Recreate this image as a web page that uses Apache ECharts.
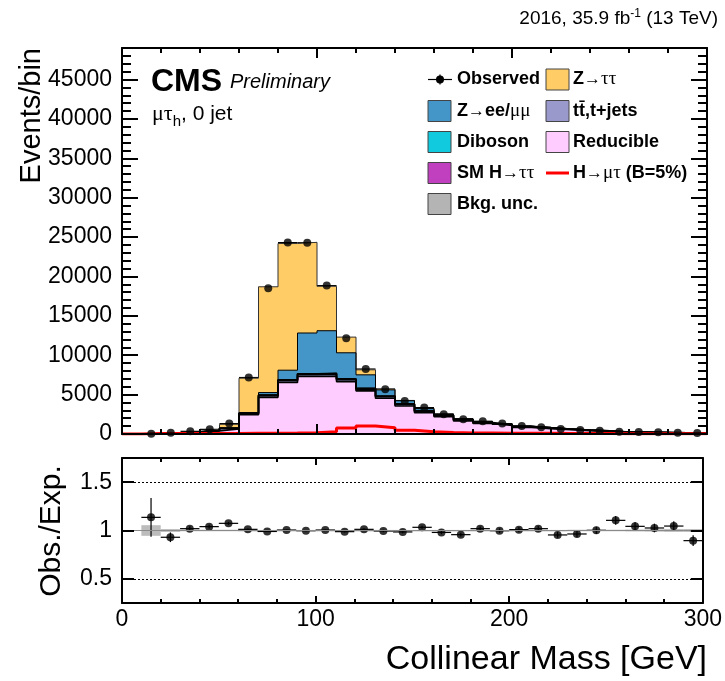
<!DOCTYPE html>
<html>
<head>
<meta charset="utf-8">
<script src="https://cdn.jsdelivr.net/npm/echarts@6/dist/echarts.min.js"></script>
<style>
  html, body { margin: 0; padding: 0; background: #ffffff; }
  #chart { width: 725px; height: 681px; }
</style>
</head>
<body>
<div id="chart"></div>
<script>
// Bin edges of the collinear mass histogram [GeV]
const massEdges = [0, 10, 20, 30, 40, 50, 60, 70, 80, 90, 100, 110, 120, 130, 140, 150,
  160, 170, 180, 190, 200, 210, 220, 230, 240, 250, 260, 270, 280, 290, 300];

// Observed events per bin
const observed = [null, 25, 170, 340, 590, 1320, 7170, 18500, 24300, 24280, 18840, 12150, 8250,
  5690, 4200, 3350, 2500, 1870, 1620, 1320, 1020, 850, 640, 510, 420, 300, 250, 210, 170, 130];

// Background contributions (stacked bottom to top)
const reducible = [0, 15, 140, 240, 400, 650, 2450, 4650, 6530, 7300, 7340, 6650, 5480, 4540,
  3560, 2700, 2200, 1660, 1340, 1100, 820, 670, 530, 410, 320, 190, 170, 145, 112, 100];
const ttbar = [0, 2, 10, 18, 30, 55, 120, 200, 230, 230, 240, 230, 210, 190, 180, 160, 140, 120,
  110, 100, 90, 80, 70, 62, 55, 45, 40, 34, 30, 26];
const diboson = [0, 1, 5, 8, 12, 20, 60, 80, 90, 90, 90, 90, 80, 70, 70, 60, 55, 50, 45, 40, 35,
  30, 27, 24, 20, 17, 15, 13, 11, 10];
const smHtautau = [0, 0, 0, 0, 1, 2, 10, 15, 20, 30, 30, 25, 20, 15, 10, 10, 5, 5, 5, 3, 2, 2, 1,
  1, 0, 0, 0, 0, 0, 0];
const zll = [0, 2, 10, 20, 30, 60, 80, 315, 1230, 5170, 5410, 3315, 1720, 785, 400, 290, 130,
  100, 80, 70, 58, 48, 40, 30, 23, 18, 14, 12, 9, 8];
const ztautau = [0, 2, 18, 47, 94, 442, 4365, 13430, 16080, 11510, 5640, 1990, 640, 120, 40, 20,
  20, 15, 10, 7, 5, 4, 2, 2, 1, 1, 1, 1, 1, 1];

// LFV signal H->mu tau, B = 5% (drawn unstacked)
const signal = [0, 60, 60, 60, 60, 60, 80, 100, 120, 150, 300, 750, 1030, 800, 480, 280, 180,
  140, 120, 100, 90, 80, 70, 60, 50, 40, 40, 30, 30, 30];

// Ratio panel: observed / expected with its uncertainty, and background uncertainty band
const ratio = [null, 1.136, 0.93, 1.019, 1.04, 1.074, 1.012, 0.99, 1.005, 0.998, 1.005, 0.988,
  1.012, 0.995, 0.985, 1.033, 0.98, 0.957, 1.019, 0.998, 1.009, 1.019, 0.954, 0.964, 1.002,
  1.105, 1.043, 1.026, 1.046, 0.895];
const ratioErr = [null, 0.2, 0.05, 0.025, 0.02, 0.015, 0.008, 0.005, 0.005, 0.005, 0.005, 0.008,
  0.01, 0.012, 0.014, 0.016, 0.018, 0.02, 0.022, 0.024, 0.026, 0.028, 0.03, 0.034, 0.038, 0.045,
  0.045, 0.045, 0.05, 0.055];
const bkgUnc = [null, 0.055, 0.015, 0.008, 0.008, 0.008, 0.006, 0.006, 0.006, 0.006, 0.006,
  0.006, 0.006, 0.006, 0.006, 0.006, 0.006, 0.006, 0.006, 0.006, 0.006, 0.006, 0.006, 0.008,
  0.008, 0.008, 0.01, 0.012, 0.015, 0.015];

// Axis tick values
const mainYMax = 49000;
const mainYStep = 5000;
const ratioTicks = [0.5, 1, 1.5];
const ratioRange = [0.25, 1.75];
const massTicks = [0, 100, 200, 300];

const FONT = 'Liberation Sans, Arial, Helvetica, sans-serif';
const GREEK = 'Liberation Serif, Times New Roman, serif';

// Turn per-bin contents into a step outline usable by a line series
function stepPoints(vals) {
  const pts = [];
  let first = -1, last = -1;
  vals.forEach((v, i) => {
    if (v == null) return;
    if (first < 0) { first = i; pts.push([massEdges[i], 0]); }
    pts.push([massEdges[i], v], [massEdges[i + 1], v]);
    last = i;
  });
  pts.push([massEdges[last + 1], 0]);
  return pts;
}

const layers = [
  { name: 'Reducible', vals: reducible, color: '#ffccff', edge: 1.6 },
  { name: 'ttbar', vals: ttbar, color: '#9999cc', edge: 1.6 },
  { name: 'Diboson', vals: diboson, color: '#12cadd', edge: 1.6 },
  { name: 'SMH', vals: smHtautau, color: '#c040c0', edge: 1.6 },
  { name: 'Zll', vals: zll, color: '#4496c8', edge: 1 },
  { name: 'Ztautau', vals: ztautau, color: '#ffcc66', edge: 1 }
];
let running = massEdges.slice(0, -1).map(() => 0);
layers.forEach(l => {
  running = running.map((v, i) => v + l.vals[i]);
  l.cum = running.slice();
});

const series = [];
// tallest cumulative first, so each lower layer paints over it
layers.slice().reverse().forEach(l => {
  series.push({
    name: l.name, type: 'line', xAxisIndex: 0, yAxisIndex: 0,
    data: stepPoints(l.cum), symbol: 'none', silent: true, animation: false,
    lineStyle: { color: l.name === 'Ztautau' ? '#333' : '#000', width: l.edge },
    areaStyle: { color: l.color, opacity: 1 }
  });
});

series.push({
  name: 'signal', type: 'line', xAxisIndex: 0, yAxisIndex: 0,
  data: stepPoints(signal), symbol: 'none', silent: true, animation: false,
  lineStyle: { color: '#ff0000', width: 3 }
});

// observed: horizontal bin-width bars and markers
const obsBars = [], obsPts = [];
observed.forEach((v, i) => {
  if (v == null) return;
  obsBars.push([massEdges[i], massEdges[i + 1], v]);
  obsPts.push([(massEdges[i] + massEdges[i + 1]) / 2, v]);
});
series.push({
  type: 'custom', xAxisIndex: 0, yAxisIndex: 0, data: obsBars, silent: true, animation: false,
  encode: { x: [0, 1], y: 2 },
  renderItem: (params, api) => {
    const a = api.coord([api.value(0), api.value(2)]);
    const b = api.coord([api.value(1), api.value(2)]);
    return { type: 'line', shape: { x1: a[0], y1: a[1], x2: b[0], y2: b[1] },
      style: { stroke: '#000', lineWidth: 1.2 } };
  }
});
series.push({
  type: 'scatter', xAxisIndex: 0, yAxisIndex: 0, data: obsPts, symbol: 'circle',
  symbolSize: 8, itemStyle: { color: '#000' }, silent: true, animation: false, z: 4
});

// ratio panel
const bandData = [], ratioBars = [], ratioPts = [];
ratio.forEach((r, i) => {
  if (r == null) return;
  const x0 = massEdges[i], x1 = massEdges[i + 1], xc = (x0 + x1) / 2;
  bandData.push([x0, x1, 1 - bkgUnc[i], 1 + bkgUnc[i]]);
  ratioBars.push([x0, x1, xc, r, r - ratioErr[i], r + ratioErr[i]]);
  ratioPts.push([xc, r]);
});
series.push({
  type: 'custom', xAxisIndex: 2, yAxisIndex: 2, data: bandData, silent: true, animation: false,
  encode: { x: [0, 1], y: [2, 3] }, clip: true,
  renderItem: (params, api) => {
    const a = api.coord([api.value(0), api.value(3)]);
    const b = api.coord([api.value(1), api.value(2)]);
    return { type: 'rect', shape: { x: a[0], y: a[1], width: b[0] - a[0], height: Math.max(b[1] - a[1], 1.5) },
      style: { fill: '#b0b0b0', opacity: 0.85 } };
  },
  markLine: {
    silent: true, symbol: 'none', label: { show: false }, animation: false,
    data: [
      { yAxis: ratioTicks[0], lineStyle: { color: '#000', width: 1, type: [2, 2] } },
      { yAxis: ratioTicks[2], lineStyle: { color: '#000', width: 1, type: [2, 2] } },
      { yAxis: ratioTicks[1], lineStyle: { color: '#8a8a8a', width: 1, type: 'solid' } }
    ]
  }
});
series.push({
  type: 'custom', xAxisIndex: 2, yAxisIndex: 2, data: ratioBars, silent: true, animation: false,
  encode: { x: [0, 1], y: [3] }, clip: true,
  renderItem: (params, api) => {
    const h0 = api.coord([api.value(0), api.value(3)]);
    const h1 = api.coord([api.value(1), api.value(3)]);
    const v0 = api.coord([api.value(2), api.value(4)]);
    const v1 = api.coord([api.value(2), api.value(5)]);
    return { type: 'group', children: [
      { type: 'line', shape: { x1: h0[0], y1: h0[1], x2: h1[0], y2: h1[1] }, style: { stroke: '#000', lineWidth: 1.2 } },
      { type: 'line', shape: { x1: v0[0], y1: v0[1], x2: v1[0], y2: v1[1] }, style: { stroke: '#000', lineWidth: 1.2 } }
    ] };
  }
});
series.push({
  type: 'scatter', xAxisIndex: 2, yAxisIndex: 2, data: ratioPts, symbol: 'circle',
  symbolSize: 8, itemStyle: { color: '#000' }, silent: true, animation: false, z: 4
});

function xAxisDef(grid, pos, labels, major, minor) {
  return {
    type: 'value', gridIndex: grid, position: pos, min: massTicks[0], max: massTicks[massTicks.length - 1],
    interval: massTicks[1] - massTicks[0], z: 10,
    axisLine: { show: true, onZero: false, lineStyle: { color: '#000', width: 2 } },
    axisTick: { show: true, inside: true, length: major, lineStyle: { color: '#000', width: 2 } },
    minorTick: { show: true, splitNumber: 5, length: minor, lineStyle: { color: '#000', width: 2 } },
    splitLine: { show: false }, minorSplitLine: { show: false },
    axisLabel: { show: labels, margin: 5, fontFamily: FONT, fontSize: 23, color: '#000',
      formatter: v => String(v) }
  };
}
function mainYDef(pos, labels) {
  return {
    type: 'value', gridIndex: 0, position: pos, min: 0, max: mainYMax, interval: mainYStep, z: 10,
    axisLine: { show: true, onZero: false, lineStyle: { color: '#000', width: 2 } },
    axisTick: { show: true, inside: true, length: 16, lineStyle: { color: '#000', width: 2 } },
    minorTick: { show: true, splitNumber: 5, length: 9, lineStyle: { color: '#000', width: 2 } },
    splitLine: { show: false },
    axisLabel: { show: labels, margin: 10, fontFamily: FONT, fontSize: 23, color: '#000',
      showMaxLabel: false, formatter: v => String(v) }
  };
}
function ratioYDef(pos, labels) {
  return {
    type: 'value', gridIndex: 1, position: pos, min: ratioRange[0], max: ratioRange[1], z: 10,
    axisLine: { show: true, onZero: false, lineStyle: { color: '#000', width: 2 } },
    axisTick: { show: true, inside: true, length: 12, customValues: ratioTicks, lineStyle: { color: '#000', width: 2 } },
    splitLine: { show: false },
    axisLabel: { show: labels, margin: 10, customValues: ratioTicks, fontFamily: FONT, fontSize: 23,
      color: '#000', formatter: v => String(v) }
  };
}

const richLegend = {
  b: { fontFamily: FONT, fontWeight: 'bold', fontSize: 18, color: '#000' },
  ar: { fontFamily: FONT, fontSize: 17, color: '#000' },
  g: { fontFamily: GREEK, fontSize: 19, color: '#000' }
};
function legText(x, y, text) {
  return { type: 'text', x: x, y: y, silent: true,
    style: { text: text, rich: richLegend, align: 'left', verticalAlign: 'middle', textAlign: 'left',
      textVerticalAlign: 'middle', fontFamily: FONT, fontWeight: 'bold', fontSize: 18, fill: '#000' } };
}
function legBox(x, y, color) {
  return { type: 'rect', silent: true, shape: { x: x, y: y - 10.5, width: 23, height: 21 },
    style: { fill: color, stroke: '#444', lineWidth: 1 } };
}
const rows = [79.5, 111, 142, 173, 204];
const c1 = 428, c2 = 546, t1 = 457, t2 = 573;

const graphics = [
  // luminosity label
  { type: 'text', x: 718, y: 19, silent: true,
    style: { text: '{n|2016, 35.9 fb}{s|-1}{n| (13 TeV)}', align: 'right', textAlign: 'right',
      verticalAlign: 'middle', textVerticalAlign: 'middle',
      rich: { n: { fontFamily: FONT, fontSize: 19, color: '#000', lineHeight: 22 },
              s: { fontFamily: FONT, fontSize: 12, color: '#000', verticalAlign: 'top', lineHeight: 22 } } } },
  { type: 'text', x: 151, y: 82, silent: true,
    style: { text: 'CMS', fontFamily: FONT, fontWeight: 'bold', fontSize: 32, fill: '#000',
      verticalAlign: 'middle', textVerticalAlign: 'middle' } },
  { type: 'text', x: 230, y: 82, silent: true,
    style: { text: 'Preliminary', fontFamily: FONT, fontStyle: 'italic', fontSize: 20, fill: '#000',
      verticalAlign: 'middle', textVerticalAlign: 'middle' } },
  { type: 'text', x: 152, y: 114, silent: true,
    style: { text: '{g|\u03bc\u03c4}{h|h}{n|, 0 jet}', verticalAlign: 'middle', textVerticalAlign: 'middle',
      rich: { g: { fontFamily: GREEK, fontSize: 22, color: '#000', lineHeight: 30 },
              h: { fontFamily: FONT, fontSize: 15, color: '#000', verticalAlign: 'bottom', lineHeight: 30 },
              n: { fontFamily: FONT, fontSize: 21, color: '#000', lineHeight: 30 } } } },
  // axis titles
  { type: 'text', x: 32, y: 48, rotation: Math.PI / 2, silent: true,
    style: { text: 'Events/bin', fontFamily: FONT, fontSize: 29, fill: '#000', align: 'right', textAlign: 'right',
      verticalAlign: 'middle', textVerticalAlign: 'middle' } },
  { type: 'text', x: 52, y: 531, rotation: Math.PI / 2, silent: true,
    style: { text: 'Obs./Exp.', fontFamily: FONT, fontSize: 30, fill: '#000', align: 'center', textAlign: 'center',
      verticalAlign: 'middle', textVerticalAlign: 'middle' } },
  { type: 'text', x: 707, y: 660, silent: true,
    style: { text: 'Collinear Mass [GeV]', fontFamily: FONT, fontSize: 34, fill: '#000', align: 'right', textAlign: 'right',
      verticalAlign: 'middle', textVerticalAlign: 'middle' } },
  // legend: observed
  { type: 'line', silent: true, shape: { x1: c1, y1: rows[0], x2: c1 + 24, y2: rows[0] }, style: { stroke: '#000', lineWidth: 1.2 } },
  { type: 'line', silent: true, shape: { x1: c1 + 12, y1: rows[0] - 5, x2: c1 + 12, y2: rows[0] + 5 }, style: { stroke: '#000', lineWidth: 1.2 } },
  { type: 'circle', silent: true, shape: { cx: c1 + 12, cy: rows[0], r: 4 }, style: { fill: '#000' } },
  legText(t1, rows[0], '{b|Observed}'),
  legBox(c2, rows[0], '#ffcc66'),
  legText(t2, rows[0], '{b|Z}{ar|\u2192}{g|\u03c4\u03c4}'),
  legBox(c1, rows[1], '#4496c8'),
  legText(t1, rows[1], '{b|Z}{ar|\u2192}{b|ee/}{g|\u03bc\u03bc}'),
  legBox(c2, rows[1], '#9999cc'),
  legText(t2, rows[1], '{b|tt\u0304,t+jets}'),
  legBox(c1, rows[2], '#12cadd'),
  legText(t1, rows[2], '{b|Diboson}'),
  legBox(c2, rows[2], '#ffccff'),
  legText(t2, rows[2], '{b|Reducible}'),
  legBox(c1, rows[3], '#c040c0'),
  legText(t1, rows[3], '{b|SM H}{ar|\u2192}{g|\u03c4\u03c4}'),
  { type: 'line', silent: true, shape: { x1: c2, y1: rows[3], x2: c2 + 23, y2: rows[3] }, style: { stroke: '#ff0000', lineWidth: 3 } },
  legText(t2, rows[3], '{b|H}{ar|\u2192}{g|\u03bc\u03c4}{b| (B=5%)}'),
  legBox(c1, rows[4], '#b4b4b4'),
  legText(t1, rows[4], '{b|Bkg. unc.}')
];

const option = {
  animation: false,
  backgroundColor: '#ffffff',
  grid: [
    { left: 122, top: 48, width: 585, height: 386 },
    { left: 122, top: 458, width: 585, height: 145 }
  ],
  xAxis: [
    xAxisDef(0, 'bottom', false, 10, 5),
    xAxisDef(0, 'top', false, 10, 5),
    xAxisDef(1, 'bottom', true, 7, 4),
    xAxisDef(1, 'top', false, 7, 4)
  ],
  yAxis: [
    mainYDef('left', true),
    mainYDef('right', false),
    ratioYDef('left', true),
    ratioYDef('right', false)
  ],
  series: series,
  graphic: graphics
};

const chart = echarts.init(document.getElementById('chart'), null, { renderer: 'canvas' });
chart.setOption(option);
</script>
</body>
</html>
